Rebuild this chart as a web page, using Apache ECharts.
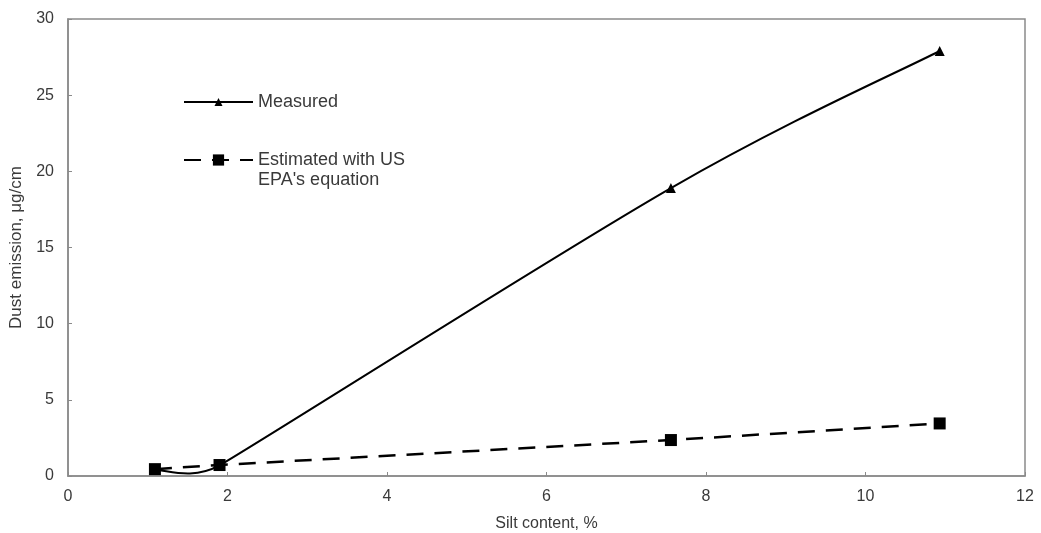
<!DOCTYPE html>
<html>
<head>
<meta charset="utf-8">
<script src="https://cdn.jsdelivr.net/npm/echarts@6/dist/echarts.min.js"></script>
<style>
  html, body { margin: 0; padding: 0; background: #fff; }
  #chart { width: 1041px; height: 533px; }
</style>
</head>
<body>
<div id="chart"></div>
<script>
// Silt content (%) of the sampled surfaces
const siltContent = [1.09, 1.9, 7.56, 10.93];
// Dust emission, μg/cm
const measured = [0.4, 0.7, 18.9, 27.9];
const estimatedEPA = [0.45, 0.72, 2.36, 3.45];
const xTicks = [0, 2, 4, 6, 8, 10, 12];
const yTicks = [0, 5, 10, 15, 20, 25, 30];

const seriesNames = ['Measured', "Estimated with US\nEPA's equation"];

const pairs = (xs, ys) => xs.map((x, i) => [x, ys[i]]);

const axisGray = '#8a8a8a';
const labelColor = '#3a3a3a';
const font = 'Liberation Sans, Arial, sans-serif';

// Spreadsheet-style smoothed path: cubic Bezier segments whose handles
// follow the neighbour tangent, capped at half of the adjacent segment.
function smoothPath(pts) {
  const n = pts.length;
  const dist = (a, b) => Math.hypot(b[0] - a[0], b[1] - a[1]);
  const handles = pts.map((p, i) => {
    const a = pts[Math.max(i - 1, 0)];
    const b = pts[Math.min(i + 1, n - 1)];
    const tx = b[0] - a[0], ty = b[1] - a[1];
    const tl = Math.hypot(tx, ty) || 1;
    const dPrev = i > 0 ? dist(pts[i - 1], p) : Infinity;
    const dNext = i < n - 1 ? dist(p, pts[i + 1]) : Infinity;
    const len = Math.min(tl / 6, dPrev / 2, dNext / 2);
    return [tx / tl * len, ty / tl * len];
  });
  let d = 'M' + pts[0][0] + ',' + pts[0][1];
  for (let i = 0; i < n - 1; i++) {
    const p = pts[i], q = pts[i + 1];
    const c1 = [p[0] + handles[i][0], p[1] + handles[i][1]];
    const c2 = [q[0] - handles[i + 1][0], q[1] - handles[i + 1][1]];
    d += ' C' + c1.join(',') + ' ' + c2.join(',') + ' ' + q.join(',');
  }
  return d;
}

const chart = echarts.init(document.getElementById('chart'), null, { renderer: 'canvas' });

chart.setOption({
  animation: false,
  backgroundColor: '#fff',
  grid: {
    left: 68, right: 16, top: 19, bottom: 57,
    outerBoundsMode: 'none',
    show: true, borderColor: axisGray, borderWidth: 1.5, backgroundColor: 'transparent'
  },
  xAxis: {
    type: 'value',
    min: xTicks[0], max: xTicks[xTicks.length - 1], interval: 2,
    name: 'Silt content, %',
    nameLocation: 'middle', nameGap: 40,
    nameTextStyle: { fontFamily: font, fontSize: 16, color: labelColor },
    axisLine: { lineStyle: { color: axisGray, width: 1.5 } },
    axisTick: { inside: true, length: 4, lineStyle: { color: axisGray } },
    axisLabel: { fontFamily: font, fontSize: 16, color: labelColor, margin: 13 },
    splitLine: { show: false }
  },
  yAxis: {
    type: 'value',
    min: yTicks[0], max: yTicks[yTicks.length - 1], interval: 5,
    name: 'Dust emission, μg/cm',
    nameLocation: 'middle', nameGap: 41,
    nameTextStyle: { fontFamily: font, fontSize: 17, color: labelColor },
    axisLine: { show: true, lineStyle: { color: axisGray, width: 1.5 } },
    axisTick: { show: true, inside: true, length: 4, lineStyle: { color: axisGray } },
    axisLabel: { fontFamily: font, fontSize: 16, color: labelColor, margin: 14 },
    splitLine: { show: false }
  },
  legend: [
    {
      orient: 'vertical', left: 178, top: 87,
      itemWidth: 69, itemHeight: 10, itemGap: 5,
      data: [{ name: seriesNames[0], lineStyle: { color: '#000', width: 2, opacity: 1 } }],
      textStyle: { fontFamily: font, fontSize: 18, color: labelColor, lineHeight: 20 }
    },
    {
      orient: 'vertical', left: 178, top: 125,
      itemWidth: 69, itemHeight: 14, itemGap: 5,
      data: [seriesNames[1]],
      // leading empty line keeps the first text line level with the key
      formatter: name => '\n' + name,
      textStyle: { fontFamily: font, fontSize: 18, color: labelColor, lineHeight: 20 }
    }
  ],
  series: [
    {
      // smoothed trace of the measured values
      name: 'Measured trace',
      type: 'custom',
      silent: true,
      data: pairs(siltContent, measured),
      renderItem: function (params, api) {
        if (params.dataIndex !== 0) return null;
        const pts = siltContent.map((x, i) => api.coord([x, measured[i]]));
        return {
          type: 'path',
          shape: { pathData: smoothPath(pts) },
          style: { fill: null, stroke: '#000', lineWidth: 2 }
        };
      },
      z: 2
    },
    {
      name: seriesNames[0],
      type: 'line',
      data: pairs(siltContent, measured),
      symbol: 'triangle', symbolSize: 10,
      itemStyle: { color: '#000' },
      lineStyle: { color: '#000', width: 2, opacity: 0 },
      z: 3
    },
    {
      name: seriesNames[1],
      type: 'line',
      data: pairs(siltContent, estimatedEPA),
      symbol: 'rect', symbolSize: 12,
      itemStyle: { color: '#000' },
      lineStyle: { color: '#000', width: 2.5, type: [17, 11] },
      z: 4
    }
  ]
});
</script>
</body>
</html>
